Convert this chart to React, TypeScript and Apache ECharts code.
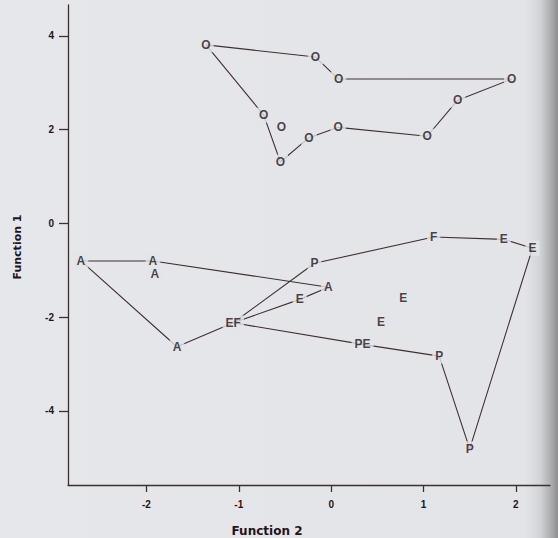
import React, { useEffect, useRef } from "react";
import * as echarts from "echarts";

// Top group (O) – outline in drawing order, then the unconnected point
const oOutlineX = [-1.355, -0.17, 0.08, 1.955, 1.37, 1.04, 0.076, -0.24, -0.55, -0.73, -1.355];
const oOutlineY = [3.81, 3.55, 3.08, 3.08, 2.63, 1.86, 2.05, 1.83, 1.31, 2.31, 3.81];
const oExtraX = [-0.54];
const oExtraY = [2.06];

// Bottom group points
const bottomLabels = ["A", "A", "A", "E", "EF", "PE", "P", "P", "E", "E", "F", "P", "A", "A", "E", "E"];
const bottomX = [-2.71, -1.93, -0.03, -0.34, -1.06, 0.34, 1.17, 1.5, 2.18, 1.87, 1.11, -0.18, -1.67, -1.91, 0.78, 0.54];
const bottomY = [-0.8, -0.8, -1.36, -1.62, -2.12, -2.58, -2.83, -4.81, -0.53, -0.34, -0.29, -0.85, -2.63, -1.08, -1.6, -2.11];
const bottomPath = [0, 1, 2, 3, 4, 5, 6, 7, 8, 9, 10, 11, 4, 12, 0];

const xTicks = [-2, -1, 0, 1, 2];
const yTicks = [-4, -2, 0, 2, 4];

const INK = "#1f1518";
const LINE = "#3e2f33";
const BG = "#e4e5e9";
const FONT = "Liberation Sans";

const fmt = (v: number) => (v < 0 ? "-" + Math.abs(v) : String(v));

export default function App() {
  const ref = useRef<HTMLDivElement>(null);
  useEffect(() => {
    if (!ref.current) return;
    const chart = echarts.init(ref.current, undefined, { renderer: "svg" });

    const oPoints = oOutlineX.slice(0, -1).map((x, i) => ({ name: "O", value: [x, oOutlineY[i]] }));
    oExtraX.forEach((x, i) => oPoints.push({ name: "O", value: [x, oExtraY[i]] }));
    const bPoints = bottomLabels.map((n, i) => ({ name: n, value: [bottomX[i], bottomY[i]] }));

    const labelCfg = {
      show: true,
      position: "inside" as const,
      formatter: (p: any) => p.name,
      color: INK,
      fontFamily: FONT,
      fontWeight: "bold" as const,
      fontSize: 12,
      backgroundColor: BG,
      padding: [2, 3, 1, 3],
    };

    chart.setOption({
      animation: false,
      backgroundColor: "transparent",
      grid: { left: 68, right: 8, top: 5, bottom: 53 },
      xAxis: {
        type: "value",
        min: -2.85,
        max: 2.37,
        axisLine: { show: true, onZero: false, lineStyle: { color: LINE, width: 1.3 } },
        axisTick: { show: true, customValues: xTicks, length: 7, lineStyle: { color: LINE, width: 1.3 } },
        axisLabel: {
          customValues: xTicks,
          formatter: fmt,
          margin: 14,
          color: INK,
          fontFamily: FONT,
          fontWeight: "bold",
          fontSize: 10,
        },
        splitLine: { show: false },
      },
      yAxis: {
        type: "value",
        min: -5.58,
        max: 4.66,
        axisLine: { show: true, onZero: false, lineStyle: { color: LINE, width: 1.3 } },
        axisTick: { show: true, customValues: yTicks, length: 9, lineStyle: { color: LINE, width: 1.3 } },
        axisLabel: {
          customValues: yTicks,
          formatter: fmt,
          margin: 14,
          color: INK,
          fontFamily: FONT,
          fontWeight: "bold",
          fontSize: 10,
        },
        splitLine: { show: false },
      },
      graphic: [
        {
          type: "text",
          x: 267,
          y: 531,
          style: {
            text: "Function 2",
            fill: INK,
            font: `bold 12px "DejaVu Sans"`,
            align: "center",
            verticalAlign: "middle",
          },
        },
        {
          type: "text",
          x: 17,
          y: 247,
          rotation: Math.PI / 2,
          style: {
            text: "Function 1",
            fill: INK,
            font: `bold 11px "DejaVu Sans"`,
            align: "center",
            verticalAlign: "middle",
          },
        },
      ],
      series: [
        {
          type: "line",
          data: oOutlineX.map((x, i) => [x, oOutlineY[i]]),
          symbol: "none",
          lineStyle: { color: LINE, width: 1.1 },
          silent: true,
        },
        {
          type: "line",
          data: bottomPath.map((k) => [bottomX[k], bottomY[k]]),
          symbol: "none",
          lineStyle: { color: LINE, width: 1.1 },
          silent: true,
        },
        {
          type: "scatter",
          data: oPoints,
          symbolSize: 1,
          itemStyle: { color: "rgba(0,0,0,0)" },
          label: labelCfg,
          z: 5,
        },
        {
          type: "scatter",
          data: bPoints,
          symbolSize: 1,
          itemStyle: { color: "rgba(0,0,0,0)" },
          label: labelCfg,
          z: 5,
        },
      ],
    });
    return () => chart.dispose();
  }, []);

  return (
    <div
      ref={ref}
      style={{
        position: "fixed",
        left: 0,
        top: 0,
        width: 558,
        height: 538,
        background:
          "linear-gradient(to right, #e6e7eb 0px, #e3e4e8 525px, #d3d4d7 540px, #a8a9ab 552px, #8c8d8f 558px)",
      }}
    />
  );
}
